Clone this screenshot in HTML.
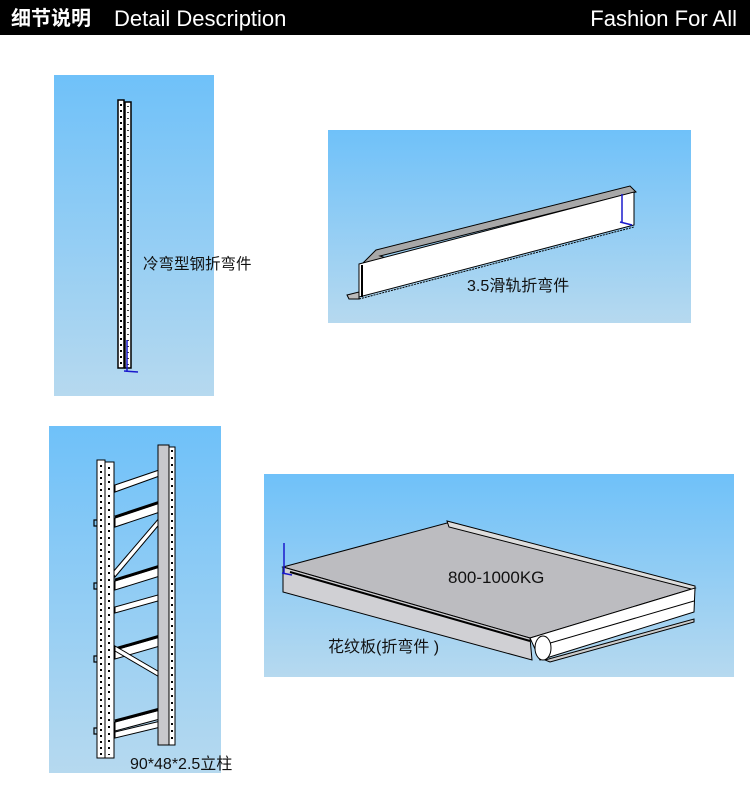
<!DOCTYPE html>
<html><head><meta charset="utf-8"><style>
body{margin:0;width:750px;height:800px;background:#fff;overflow:hidden;font-family:"Liberation Sans","Noto Sans CJK SC",sans-serif}
</style></head><body>
<svg width="750" height="800" viewBox="0 0 750 800" xmlns="http://www.w3.org/2000/svg" style="display:block">
<defs>
<linearGradient id="g" x1="0" y1="0" x2="0" y2="1"><stop offset="0" stop-color="#6fc1f9"/><stop offset="1" stop-color="#b6d9ef"/></linearGradient>
</defs>
<rect x="0" y="0" width="750" height="35" fill="#000"/>
<text x="11" y="25" fill="#fff" font-size="20" font-weight="bold" font-family="'Noto Sans CJK SC',sans-serif">细节说明</text>
<text x="114" y="26" fill="#fff" font-size="22" font-family="'Liberation Sans',sans-serif">Detail Description</text>
<text x="737" y="26" fill="#fff" font-size="22" text-anchor="end" font-family="'Liberation Sans',sans-serif">Fashion For All</text>

<!-- panel 1 -->
<rect x="54" y="75" width="160" height="321" fill="url(#g)"/>
<rect x="118" y="100" width="6" height="268" fill="#fff" stroke="#000" stroke-width="1.5"/>
<rect x="125" y="102" width="6" height="266" fill="#fff" stroke="#000" stroke-width="1.5"/>
<line x1="121" y1="104" x2="121" y2="366" stroke="#000" stroke-width="2" stroke-dasharray="2 4"/>
<line x1="128" y1="106" x2="128" y2="366" stroke="#000" stroke-width="1.5" stroke-dasharray="1 5"/>
<line x1="127" y1="340" x2="127" y2="372" stroke="#1a1acc" stroke-width="1.5"/>
<line x1="124" y1="371" x2="138" y2="372" stroke="#1a1acc" stroke-width="1.5"/>
<text x="143" y="269" font-size="15.5" fill="#111">冷弯型钢折弯件</text>

<!-- panel 2 -->
<rect x="328" y="130" width="363" height="193" fill="url(#g)"/>
<polygon points="376,250 630,186 636,192 380,256 386,258 360,266" fill="#a8a8a8" stroke="#000" stroke-width="1"/>
<polygon points="359,264 634,192 634,225 359,297" fill="#fff" stroke="#000" stroke-width="1"/>
<line x1="362" y1="265" x2="362" y2="297" stroke="#000" stroke-width="2"/>
<polygon points="347,295 359,292 359,299 349,299" fill="#bbb" stroke="#000" stroke-width="1"/>
<line x1="359" y1="299" x2="634" y2="227" stroke="#000" stroke-width="1" stroke-dasharray="2 1"/>
<line x1="622" y1="194" x2="622" y2="222" stroke="#1a1acc" stroke-width="1.5"/>
<line x1="620" y1="222" x2="632" y2="225" stroke="#1a1acc" stroke-width="1.5"/>
<text x="467" y="291" font-size="16" fill="#111">3.5滑轨折弯件</text>

<!-- panel 3 -->
<rect x="49" y="426" width="172" height="347" fill="url(#g)"/>
<g stroke="#000" stroke-width="1">
<polygon points="115,485 165,468 165,474 115,492" fill="#fff"/>
<polygon points="115,518 160,503 160,512 115,527" fill="#fff"/>
<line x1="115" y1="517" x2="160" y2="502" stroke-width="3"/>
<polygon points="115,581 160,567 160,576 115,590" fill="#fff"/>
<line x1="115" y1="580" x2="160" y2="566" stroke-width="3"/>
<polygon points="115,607 165,593 165,599 115,613" fill="#fff"/>
<polygon points="115,650 160,637 160,646 115,659" fill="#fff"/>
<line x1="115" y1="649" x2="160" y2="636" stroke-width="3"/>
<polygon points="115,722 160,710 160,719 115,731" fill="#fff"/>
<line x1="115" y1="721" x2="160" y2="709" stroke-width="3"/>
<polygon points="115,732 165,720 165,726 115,738" fill="#fff"/>
<polygon points="113,572 166,510 168,514 115,577" fill="#fff"/>
<polygon points="115,646 168,677 168,682 115,651" fill="#fff"/>
<rect x="158" y="445" width="11" height="300" fill="#c8c8cc"/>
<rect x="169" y="447" width="6" height="298" fill="#fff"/>
<rect x="97" y="460" width="8" height="298" fill="#fff"/>
<rect x="105" y="462" width="9" height="296" fill="#fff"/>
</g>
<line x1="172" y1="450" x2="172" y2="742" stroke="#000" stroke-width="2" stroke-dasharray="2 5"/>
<line x1="101" y1="465" x2="101" y2="755" stroke="#000" stroke-width="2" stroke-dasharray="2 4"/>
<line x1="109" y1="467" x2="109" y2="755" stroke="#000" stroke-width="2" stroke-dasharray="2 5"/>
<g stroke="#000" stroke-width="1.2" fill="none">
<path d="M97,520 h-3 v6 h3"/><path d="M97,583 h-3 v6 h3"/><path d="M97,656 h-3 v6 h3"/><path d="M97,728 h-3 v6 h3"/>
</g>
<text x="130" y="769" font-size="16" fill="#111">90*48*2.5立柱</text>

<!-- panel 4 -->
<rect x="264" y="474" width="470" height="203" fill="url(#g)"/>
<polygon points="283,567 447,523 695,588 530,638" fill="#bcbcc0" stroke="#000" stroke-width="1"/>
<polygon points="447,521 449,527 695,590 695,586" fill="#ddd" stroke="#000" stroke-width="1"/>
<polygon points="283,567 530,638 532,660 283,592" fill="#d0d0d4" stroke="#000" stroke-width="1"/>
<line x1="290" y1="572" x2="530" y2="641" stroke="#000" stroke-width="2"/>
<polygon points="530,638 695,588 694,612 540,660" fill="#fff" stroke="#000" stroke-width="1"/>
<line x1="540" y1="646" x2="694" y2="601" stroke="#000" stroke-width="1"/>
<polygon points="545,660 694,619 694,622 550,662" fill="#ccc" stroke="#000" stroke-width="1"/>
<ellipse cx="543" cy="648" rx="8" ry="12" fill="#fff" stroke="#000" stroke-width="1"/>
<line x1="284" y1="543" x2="284" y2="573" stroke="#1a1acc" stroke-width="1.5"/>
<line x1="282" y1="573" x2="292" y2="575" stroke="#1a1acc" stroke-width="1.5"/>
<text x="448" y="583" font-size="17" fill="#111">800-1000KG</text>
<text x="328" y="652" font-size="16" fill="#111">花纹板(折弯件 )</text>
</svg>
</body></html>
